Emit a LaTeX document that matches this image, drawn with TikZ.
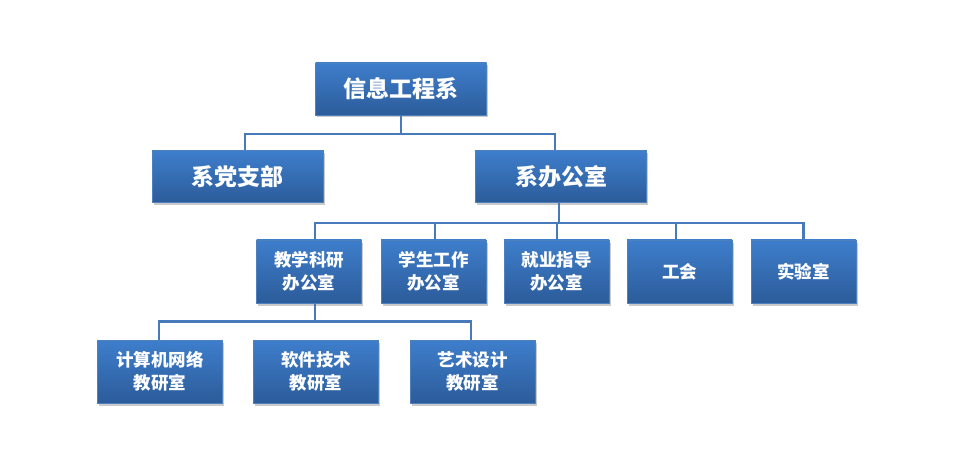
\documentclass[tikz,border=0pt]{standalone}
\usepackage{fontspec}
\usepackage{tikz}
\usetikzlibrary{shadows}
\newfontfamily\cjk{Noto Sans CJK SC}
\definecolor{boxtop}{RGB}{62,126,204}
\definecolor{boxbot}{RGB}{44,92,154}
\definecolor{boxline}{RGB}{78,128,190}
\definecolor{linkblue}{RGB}{70,122,186}

\begin{document}
\begin{tikzpicture}[x=1pt, y=-1pt,
      % styles for the boxes and connectors
      unit/.style  ={draw=boxline, line width=0.8pt, top color=boxtop, bottom color=boxbot,
                     text=white, align=center, inner sep=0pt,
                     drop shadow={shadow xshift=1.5pt, shadow yshift=-2.5pt, opacity=0.35, fill=black!60}},
      head/.style  ={unit, minimum width=171pt, minimum height=52pt,
                     font=\cjk\bfseries\fontsize{23}{27}\selectfont},
      office/.style={unit, minimum width=105pt, minimum height=63pt,
                     font=\cjk\bfseries\fontsize{17.5}{23}\selectfont},
      lab/.style   ={office, minimum width=125pt},
      link/.style  ={draw=linkblue, line width=2.2pt}
    ]
    \useasboundingbox (0,0) rectangle (953,457);

    % top levels
    \node[head] (dept)   at (401,89)    {信息工程系};
    \node[head] (party)  at (237.5,176.5) {系党支部};
    \node[head] (office) at (561,176.5)  {系办公室};

    % offices under the department office
    \foreach \x/\txt [count=\i from 1] in {309/教学科研\\办公室, 433.5/学生工作\\办公室,
        556.5/就业指导\\办公室, 679.5/工会, 803.5/实验室}{
      \node[office] (r\i) at (\x,271.5) {\txt};
    }

    % teaching and research rooms
    \foreach \x/\txt [count=\i from 1] in {160/计算机网络\\教研室, 316/软件技术\\教研室,
        472.5/艺术设计\\教研室}{
      \node[lab] (s\i) at (\x,371.5) {\txt};
    }

    % connectors (drops sit a little off the box centres)
    \foreach \n/\dx in {party/7.5, office/-6}
      \draw[link] (dept.south) -- ++(0,19) -| ([xshift=\dx pt]\n.north);
    \foreach \i/\dx in {1/6, 2/1.5, 3/0.5, 4/-3.5, 5/0}
      \draw[link] ([xshift=-2pt]office.south) -- ++(0,20) -| ([xshift=\dx pt]r\i.north);
    \foreach \i/\dx in {1/-1, 3/-1.5}
      \draw[link] ([xshift=6pt]r1.south) -- ++(0,18) -| ([xshift=\dx pt]s\i.north);
  \end{tikzpicture}
\end{document}
